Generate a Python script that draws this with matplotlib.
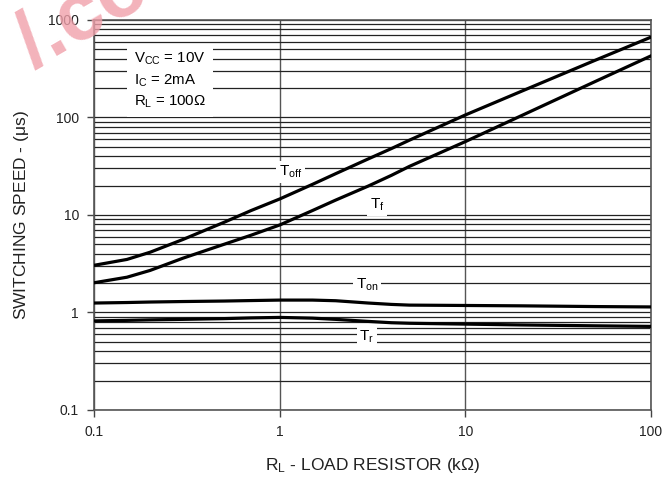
import matplotlib
matplotlib.use("Agg")
from matplotlib import pyplot as plt
from matplotlib.ticker import LogLocator, NullFormatter, FixedLocator

plt.rcParams['font.family'] = ['Liberation Sans', 'DejaVu Sans']
plt.rcParams['mathtext.fontset'] = 'custom'
plt.rcParams['mathtext.rm'] = 'Liberation Sans'
plt.rcParams['mathtext.it'] = 'Liberation Sans'

# load resistor (kOhm)
rl = [0.1, 0.15, 0.2, 0.3, 0.5, 0.7, 1, 1.5, 2, 3, 4, 5, 10, 20, 50, 100]
# switching times (us)
t_off = [3.05, 3.5, 4.15, 5.6, 8.4, 11.1, 14.6, 20.6, 26.5, 37.6, 48.0, 58.5,
         106, 185, 385, 665]
t_f = [2.02, 2.3, 2.7, 3.6, 5.0, 6.2, 7.9, 11.1, 14.2, 19.8, 25.5, 31.5,
       56.5, 104, 233, 427]
t_on = [1.25, 1.265, 1.28, 1.295, 1.31, 1.325, 1.34, 1.34, 1.32, 1.25, 1.21,
        1.19, 1.18, 1.17, 1.15, 1.14]
t_r = [0.82, 0.83, 0.84, 0.85, 0.865, 0.88, 0.89, 0.875, 0.85, 0.81, 0.785,
       0.775, 0.76, 0.745, 0.73, 0.72]

x_ticks = [0.1, 1, 10, 100]
x_ticklabels = ['0.1', '1', '10', '100']
y_ticks = [0.1, 1, 10, 100, 1000]
y_ticklabels = ['0.1', '1', '10', '100', '1000']

fig = plt.figure(figsize=(6.65, 4.78), dpi=100)
ax = fig.add_axes([0.1418, 0.1423, 0.8367, 0.8159])

# watermark
fig.text(0.005, 0.965, '/.co', color='#f0a0aa', alpha=0.8, fontsize=58,
         fontweight='bold', rotation=30, ha='left', va='center', zorder=0)

ax.set_xscale('log')
ax.set_yscale('log')
ax.set_xlim(0.1, 100)
ax.set_ylim(0.1, 1000)
ax.patch.set_alpha(0)

ax.xaxis.set_major_locator(FixedLocator(x_ticks))
ax.set_xticklabels(x_ticklabels)
ax.yaxis.set_major_locator(FixedLocator(y_ticks))
ax.set_yticklabels(y_ticklabels)
ax.xaxis.set_minor_locator(plt.NullLocator())
ax.yaxis.set_minor_locator(LogLocator(base=10, subs=range(2, 10)))
ax.yaxis.set_minor_formatter(NullFormatter())
ax.tick_params(axis='y', which='minor', length=0)
ax.tick_params(which='major', length=5, width=1, color='#444444',
               labelsize=10, labelcolor='#222222', pad=6)

ax.grid(True, which='major', axis='x', color='#555555', lw=1.0)
ax.grid(True, which='both', axis='y', color='#222222', lw=0.9)
ax.set_axisbelow(True)
for s in ax.spines.values():
    s.set_color('#555555')
    s.set_linewidth(1.2)

for ys in (t_off, t_f, t_on, t_r):
    ax.plot(rl, ys, color='black', lw=2.3, zorder=3)

lab = dict(fontsize=11, ha='center', va='center', zorder=4,
           bbox=dict(facecolor='white', edgecolor='none', pad=2))
ax.text(1.14, 27.6, r'T$_{\mathrm{off}}$', **lab)
ax.text(3.34, 12.7, r'T$_{\mathrm{f}}$', **lab)
ax.text(2.95, 1.91, r'T$_{\mathrm{on}}$', **lab)
ax.text(2.95, 0.56, r'T$_{\mathrm{r}}$', **lab)

ax.text(0.163, 240, 'V$_{\\mathrm{CC}}$ = 10V\nI$_{\\mathrm{C}}$ = 2mA\nR$_{\\mathrm{L}}$ = 100\u03a9',
        fontsize=10.8, ha='left', va='center', linespacing=1.4, zorder=4,
        bbox=dict(facecolor='white', edgecolor='none', pad=5))

ax.set_xlabel(r'R$_{\mathrm{L}}$ - LOAD RESISTOR (k$\Omega$)', fontsize=12.5,
              color='#222222', labelpad=12)
ax.set_ylabel(r'SWITCHING SPEED - ($\mathrm{\mu}$s)', fontsize=12.5,
              color='#222222', labelpad=12)

fig.savefig('out.png', dpi=100)
